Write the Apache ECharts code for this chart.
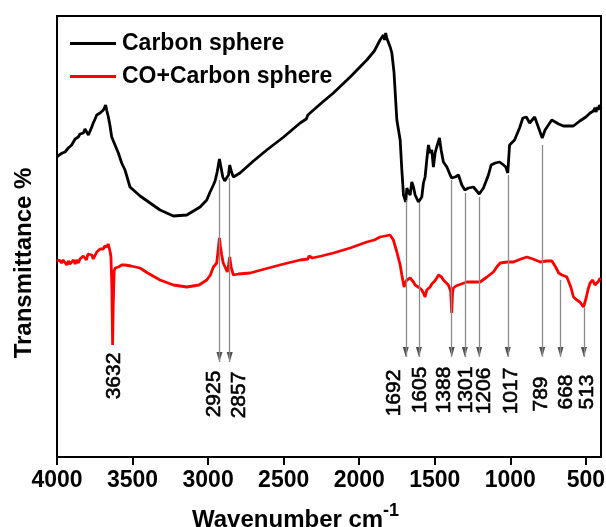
<!DOCTYPE html>
<html><head><meta charset="utf-8">
<script src="https://cdn.jsdelivr.net/npm/echarts@6/dist/echarts.min.js"></script>
<style>html,body{margin:0;padding:0;background:#fff}#c{width:606px;height:527px}</style>
</head><body><div id="c"></div>
<script>
// Spectra: [wavenumber (cm-1), transmittance (a.u.)]
const carbonSphere = [[4000,300],[3985,302],[3965,304],[3947,305],[3925,309],[3903,312],[3890,314],[3880,318],[3870,316],[3859,320],[3848,323],[3837,325],[3825,324],[3815,328],[3803,327],[3792,322],[3782,324],[3770,330],[3760,334],[3748,338],[3737,342],[3726,340],[3715,344],[3704,343],[3693,347],[3685,346],[3678,352],[3670,346],[3660,340],[3650,332],[3638,320],[3616,312],[3594,304],[3572,294],[3550,287],[3517,270],[3450,261],[3384,254],[3318,247],[3230,241],[3141,242],[3053,250],[3009,257],[2987,265],[2965,272],[2954,276],[2940,285],[2925,298],[2915,290],[2903,280],[2890,276],[2877,274],[2865,282],[2857,292],[2845,285],[2833,280],[2789,284],[2700,296],[2612,307],[2500,320],[2391,334],[2350,338],[2340,342],[2330,340],[2325,344],[2250,354],[2171,364],[2060,380],[1950,397],[1900,406],[1862,417],[1850,418],[1840,422],[1832,417],[1825,424],[1818,419],[1807,417],[1795,410],[1784,404],[1770,385],[1751,337],[1729,317],[1718,287],[1707,262],[1692,255],[1685,269],[1674,265],[1663,262],[1652,275],[1641,270],[1630,262],[1608,255],[1605,254],[1586,260],[1575,274],[1564,280],[1553,297],[1542,312],[1531,304],[1520,307],[1509,290],[1498,304],[1487,310],[1469,319],[1458,307],[1443,295],[1420,290],[1398,282],[1388,279],[1365,280],[1343,282],[1321,272],[1301,267],[1277,269],[1244,270],[1206,263],[1178,269],[1145,282],[1127,292],[1100,294],[1071,295],[1045,292],[1030,290],[1017,284],[1005,312],[972,317],[939,329],[917,339],[894,340],[872,334],[839,340],[815,330],[789,319],[770,327],[726,337],[680,333],[649,331],[583,331],[540,336],[500,340],[472,344],[450,346],[440,349],[432,345],[425,350],[418,347],[410,352],[400,348]];
const coCarbonSphere = [[4000,196],[3985,197],[3970,194],[3960,197],[3947,195],[3935,192],[3925,196],[3915,193],[3903,194],[3890,197],[3880,193],[3870,197],[3859,194],[3848,198],[3837,196],[3826,201],[3815,200],[3805,197],[3795,203],[3782,202],[3770,202],[3760,198],[3748,199],[3737,205],[3726,206],[3715,208],[3704,209],[3693,208],[3685,211],[3678,212],[3670,210],[3662,213],[3656,210],[3648,205],[3643,200],[3637,170],[3632,112],[3628,150],[3622,186],[3615,189],[3605,190],[3594,190],[3572,192],[3550,192],[3510,191],[3451,189],[3400,184],[3318,177],[3230,172],[3141,170],[3060,172],[3009,177],[2985,182],[2965,190],[2943,194],[2935,205],[2925,219],[2918,210],[2910,202],[2900,194],[2888,190],[2873,185],[2865,192],[2857,200],[2848,190],[2833,182],[2800,183],[2722,184],[2600,189],[2500,193],[2391,197],[2340,198],[2332,201],[2325,199],[2310,199],[2250,201],[2171,204],[2060,209],[1950,215],[1900,217],[1862,220],[1830,221],[1817,223],[1796,222],[1774,217],[1751,205],[1729,192],[1718,182],[1703,170],[1695,174],[1685,177],[1675,176],[1663,179],[1652,177],[1641,175],[1630,172],[1619,170],[1600,169],[1586,167],[1575,164],[1564,160],[1553,167],[1540,168],[1531,170],[1520,173],[1509,174],[1500,176],[1487,179],[1475,182],[1465,184],[1455,180],[1443,177],[1430,175],[1410,172],[1395,166],[1388,144],[1382,165],[1377,169],[1360,171],[1343,172],[1288,175],[1222,175],[1200,175],[1155,180],[1112,185],[1090,190],[1067,194],[1020,195],[979,195],[930,198],[891,200],[850,198],[802,195],[760,196],[725,196],[700,190],[680,184],[659,182],[640,181],[626,180],[600,170],[582,160],[560,157],[540,155],[516,150],[500,158],[485,168],[472,174],[455,177],[440,172],[427,172],[415,176],[405,179]];

const seriesNames = ['Carbon sphere', 'CO+Carbon sphere'];
const xTicks = [4000, 3500, 3000, 2500, 2000, 1500, 1000, 500];

// Arrows (peak positions)
const arrowWn    = [2925, 2857, 1692, 1605, 1388, 1301, 1206, 1017, 789, 668, 513];
const arrowFromT = [277, 279, 257, 254, 277, 264, 260, 282, 312, 177, 149];
const arrowToT   = [95, 95, 100, 100, 100, 100, 100, 100, 100, 100, 100];

// Peak labels
const peakLabels = ['3632', '2925', '2857', '1692', '1605', '1388', '1301', '1206', '1017', '789', '668', '513'];
const labelWn    = [3621, 2959, 2795, 1770, 1597, 1439, 1290, 1173, 992, 798, 630, 489];
const labelT     = [81, 63, 62, 64, 67, 67, 67, 66, 66, 63, 65, 65];

const FONT = 'Liberation Sans, Arial, Helvetica, sans-serif';

const chart = echarts.init(document.getElementById('c'), null, {renderer: 'canvas'});

const markLineData = arrowWn.map((w, i) => [{coord: [w, arrowFromT[i]]}, {coord: [w, arrowToT[i]]}]);
const arrowHeads = arrowWn.map((w, i) => [w, arrowToT[i] + 5]);
const labelData = peakLabels.map((t, i) => ({name: t, value: [labelWn[i], labelT[i]]}));

chart.setOption({
  animation: false,
  backgroundColor: '#fff',
  grid: {left: 57, right: 5, top: 16, bottom: 70, containLabel: false, outerBoundsMode: 'none',
         show: true, borderColor: '#000', borderWidth: 2, backgroundColor: 'transparent'},
  legend: {
    data: seriesNames,
    orient: 'vertical',
    left: 70, top: 32, padding: 0,
    icon: 'rect',
    itemWidth: 46, itemHeight: 3, itemGap: 10,
    textStyle: {fontSize: 23, fontWeight: 'bold', color: '#000', fontFamily: FONT, padding: [0, 0, 0, 1]}
  },
  xAxis: {
    type: 'value', inverse: true, min: 400, max: 4000,
    axisLine: {show: false},
    axisTick: {show: true, inside: false, length: 8, lineStyle: {color: '#000', width: 2}, customValues: xTicks},
    axisLabel: {show: true, margin: 12, fontSize: 23, fontWeight: 'bold', color: '#000', fontFamily: FONT,
                customValues: xTicks, formatter: v => String(v)},
    splitLine: {show: false}
  },
  yAxis: {
    type: 'value', min: 0, max: 441, show: false, splitLine: {show: false}
  },
  graphic: [
    {type: 'text', x: 24, y: 263, rotation: Math.PI / 2,
     style: {text: 'Transmittance %', fontSize: 24, fontWeight: 'bold', fontFamily: FONT, fill: '#000', align: 'center', verticalAlign: 'middle'}},
    {type: 'text', x: 192, y: 520,
     style: {text: 'Wavenumber cm', fontSize: 24, fontWeight: 'bold', fontFamily: FONT, fill: '#000', align: 'left', verticalAlign: 'middle'}},
    {type: 'text', x: 383, y: 511,
     style: {text: '-1', fontSize: 18, fontWeight: 'bold', fontFamily: FONT, fill: '#000', align: 'left', verticalAlign: 'middle'}}
  ],
  series: [
    {
      name: seriesNames[0], type: 'line', data: carbonSphere, symbol: 'none', z: 3,
      lineStyle: {color: '#000', width: 2.8}, itemStyle: {color: '#000'},
      markLine: {
        silent: true, symbol: ['none', 'none'], animation: false,
        lineStyle: {color: '#8a8a8a', width: 1.3, type: 'solid'},
        label: {show: false}, emphasis: {disabled: true},
        data: markLineData
      }
    },
    {
      name: seriesNames[1], type: 'line', data: coCarbonSphere, symbol: 'none', z: 2,
      lineStyle: {color: '#ff0000', width: 2.8}, itemStyle: {color: '#ff0000'}
    },
    {
      name: 'arrows', type: 'scatter', data: arrowHeads, symbol: 'triangle', symbolRotate: 180,
      symbolSize: [6, 10], itemStyle: {color: '#222'}, silent: true, z: 4
    },
    {
      name: 'labels', type: 'scatter', data: labelData, symbolSize: 0, silent: true, z: 5,
      itemStyle: {color: '#000', opacity: 1},
      label: {show: true, position: 'inside', rotate: 90, formatter: p => p.name, opacity: 1,
              fontSize: 21, color: '#000', textBorderColor: '#000', textBorderWidth: 0.6,
              fontFamily: FONT, align: 'center', verticalAlign: 'middle'}
    }
  ]
});
</script>
</body></html>
